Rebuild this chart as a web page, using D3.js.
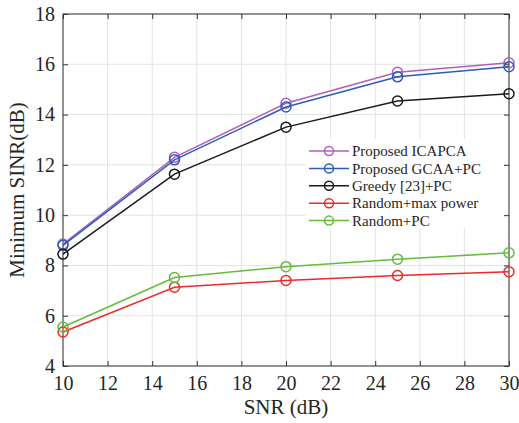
<!DOCTYPE html>
<html><head><meta charset="utf-8">
<script src="https://cdn.jsdelivr.net/npm/d3@7"></script>
<style>body{margin:0;background:#fff}</style>
</head><body>
<svg id="c" width="519" height="423"></svg>
<script>
const snr = [10, 15, 20, 25, 30];
const icapca = [8.85, 12.3, 14.45, 15.68, 16.06];
const gcaa = [8.8, 12.2, 14.3, 15.5, 15.9];
const greedy = [8.45, 11.63, 13.5, 14.54, 14.83];
const randMax = [5.35, 7.13, 7.4, 7.6, 7.75];
const randPC = [5.55, 7.52, 7.95, 8.25, 8.5];
const seriesNames = ["Proposed ICAPCA", "Proposed GCAA+PC", "Greedy [23]+PC", "Random+max power", "Random+PC"];
const seriesColors = ["#b060bc", "#2e5db5", "#1a1a1a", "#ee2a2a", "#66bb3c"];
const seriesData = [icapca, gcaa, greedy, randMax, randPC];
const xTicks = [10, 12, 14, 16, 18, 20, 22, 24, 26, 28, 30];
const yTicks = [4, 6, 8, 10, 12, 14, 16, 18];

const L = 63, R = 509, T = 14, B = 366;
const svg = d3.select("#c");
const x = d3.scaleLinear().domain([10, 30]).range([L, R]);
const y = d3.scaleLinear().domain([4, 18]).range([B, T]);
const font = "'Liberation Serif', 'Times New Roman', serif";

// grid
svg.append("g").selectAll("line").data(xTicks).join("line")
  .attr("x1", d => x(d)).attr("x2", d => x(d)).attr("y1", T).attr("y2", B)
  .attr("stroke", "#e3e3e3").attr("stroke-width", 1);
svg.append("g").selectAll("line").data(yTicks).join("line")
  .attr("x1", L).attr("x2", R).attr("y1", d => y(d)).attr("y2", d => y(d))
  .attr("stroke", "#e3e3e3").attr("stroke-width", 1);

// axes
const ax = (g, axis) => {
  g.call(axis);
  g.select(".domain").remove();
  g.selectAll(".tick line").attr("stroke", "#333");
  g.selectAll(".tick text").attr("font-family", font).attr("font-size", 20).attr("fill", "#262626");
};
svg.append("g").attr("transform", `translate(0,${B})`)
  .call(g => ax(g, d3.axisBottom(x).tickValues(xTicks).tickSizeInner(-5).tickSizeOuter(0).tickPadding(10)));
svg.append("g").attr("transform", `translate(0,${T})`)
  .call(g => ax(g, d3.axisTop(x).tickValues(xTicks).tickSizeInner(-5).tickSizeOuter(0).tickFormat("")));
svg.append("g").attr("transform", `translate(${L},0)`)
  .call(g => ax(g, d3.axisLeft(y).tickValues(yTicks).tickSizeInner(-5).tickSizeOuter(0).tickPadding(8)));
svg.append("g").attr("transform", `translate(${R},0)`)
  .call(g => ax(g, d3.axisRight(y).tickValues(yTicks).tickSizeInner(-5).tickSizeOuter(0).tickFormat("")));
svg.append("rect").attr("x", L).attr("y", T).attr("width", R - L).attr("height", B - T)
  .attr("fill", "none").attr("stroke", "#333").attr("stroke-width", 1);

// series
const line = d3.line().x((d, i) => x(snr[i])).y(d => y(d));
seriesData.forEach((data, k) => {
  const g = svg.append("g");
  g.append("path").datum(data).attr("d", line).attr("fill", "none")
    .attr("stroke", seriesColors[k]).attr("stroke-width", 1.5);
  g.selectAll("circle").data(data).join("circle")
    .attr("cx", (d, i) => x(snr[i])).attr("cy", d => y(d)).attr("r", 5)
    .attr("fill", "none").attr("stroke", seriesColors[k]).attr("stroke-width", 1.5);
});

// legend
const lg = svg.append("g");
lg.append("rect").attr("x", 306).attr("y", 139).attr("width", 198).attr("height", 89).attr("fill", "#fff");
seriesNames.forEach((name, k) => {
  const yy = 151 + k * 17.4;
  lg.append("line").attr("x1", 309).attr("x2", 349).attr("y1", yy).attr("y2", yy)
    .attr("stroke", seriesColors[k]).attr("stroke-width", 1.5);
  lg.append("circle").attr("cx", 329).attr("cy", yy).attr("r", 4.5)
    .attr("fill", "none").attr("stroke", seriesColors[k]).attr("stroke-width", 1.5);
  lg.append("text").attr("x", 352).attr("y", yy).attr("dy", "0.35em")
    .attr("font-family", font).attr("font-size", 15).attr("fill", "#262626").text(name);
});

// labels
svg.append("text").attr("x", (L + R) / 2).attr("y", 414).attr("text-anchor", "middle")
  .attr("font-family", font).attr("font-size", 21).attr("fill", "#262626").text("SNR (dB)");
svg.append("text").attr("transform", `translate(24,${(T + B) / 2}) rotate(-90)`).attr("text-anchor", "middle")
  .attr("font-family", font).attr("font-size", 21).attr("fill", "#262626").text("Minimum SINR(dB)");
</script>
</body></html>
